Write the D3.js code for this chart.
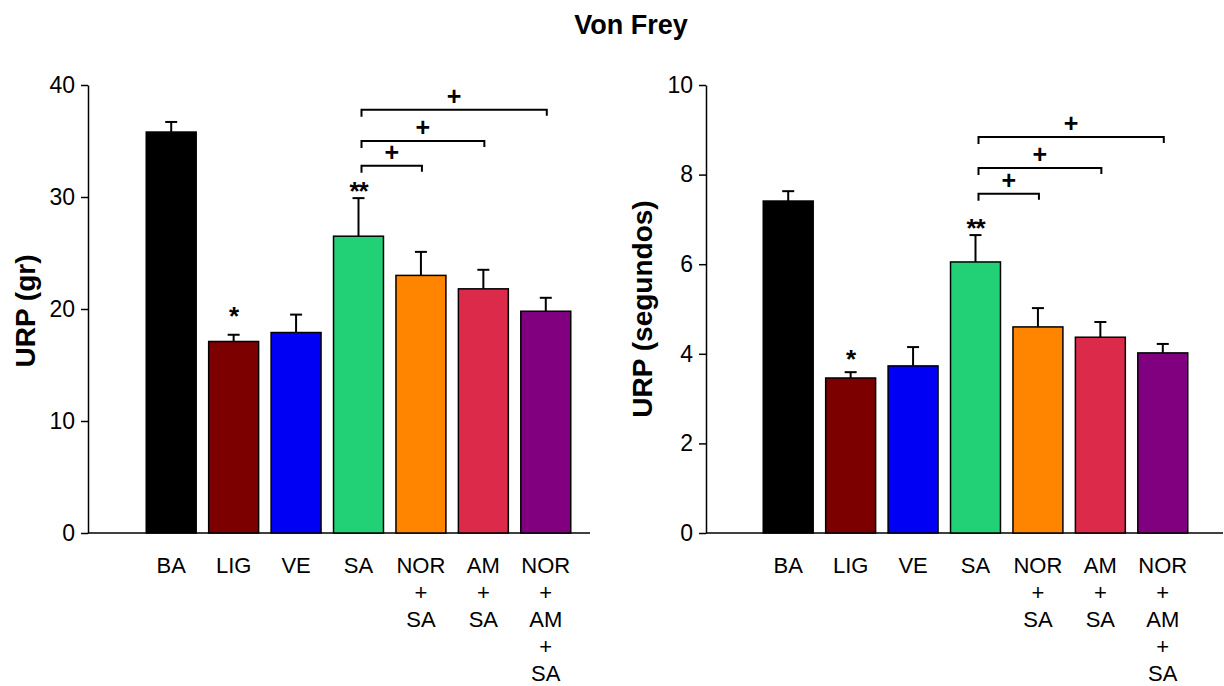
<!DOCTYPE html>
<html>
<head>
<meta charset="utf-8">
<script src="https://cdn.jsdelivr.net/npm/d3@7"></script>
<style>
  html, body { margin: 0; padding: 0; background: #fff; }
  svg { display: block; font-family: "Liberation Sans", Arial, sans-serif; }
</style>
</head>
<body>
<svg id="chart" width="1224" height="686"></svg>
<script>
// categories + colours
const groups = ['BA', 'LIG', 'VE', 'SA', 'NOR+SA', 'AM+SA', 'NOR+AM+SA']
const groupLines = [['BA'], ['LIG'], ['VE'], ['SA'], ['NOR', '+', 'SA'], ['AM', '+', 'SA'], ['NOR', '+', 'AM', '+', 'SA']]
const colors = ['#000000', '#7d0000', '#0000f5', '#22d175', '#ff8500', '#dc2a4b', '#800080']

// left panel: grams
const gramsMean = [35.8, 17.1, 17.9, 26.5, 23.0, 21.8, 19.8]
const gramsTop = [36.7, 17.7, 19.5, 29.9, 25.1, 23.5, 21.0]
const gramsTicks = [0, 10, 20, 30, 40]
const gramsStars = [{ g: 'LIG', txt: '*', y: 19.9 }, { g: 'SA', txt: '**', y: 31.1 }]
const gramsBrackets = [
    { to: 'NOR+SA', y: 32.8 },
    { to: 'AM+SA', y: 35.0 },
    { to: 'NOR+AM+SA', y: 37.8 }
]

// right panel: seconds
const secMean = [7.41, 3.46, 3.73, 6.05, 4.6, 4.37, 4.02]
const secTop = [7.63, 3.59, 4.15, 6.65, 5.02, 4.71, 4.22]
const secTicks = [0, 2, 4, 6, 8, 10]
const secStars = [{ g: 'LIG', txt: '*', y: 4.02 }, { g: 'SA', txt: '**', y: 6.94 }]
const secBrackets = [
    { to: 'NOR+SA', y: 7.57 },
    { to: 'AM+SA', y: 8.15 },
    { to: 'NOR+AM+SA', y: 8.84 }
]

const svg = d3.select('#chart')

svg.append('text')
    .attr('x', 631)
    .attr('y', 34)
    .attr('text-anchor', 'middle')
    .attr('font-size', 27)
    .attr('font-weight', 'bold')
    .text('Von Frey')

function panel(opt) {
    const g = svg.append('g')
    const y = d3.scaleLinear().domain([0, opt.max]).range([533, 85])
    const x = d3.scaleBand().domain(groups).range(opt.band).paddingInner(0.2).paddingOuter(0.1)

    // y axis
    const yAxis = g.append('g')
        .attr('transform', `translate(${opt.axisX},0)`)
        .call(d3.axisLeft(y).tickValues(opt.ticks).tickSize(7).tickSizeOuter(0).tickPadding(6))
    yAxis.selectAll('path, line').attr('stroke', '#000').attr('stroke-width', 1.5)
    yAxis.selectAll('text').attr('font-size', 23).attr('fill', '#000')
        .attr('font-family', '"Liberation Sans", Arial, sans-serif')

    // baseline
    g.append('line')
        .attr('x1', opt.axisX).attr('x2', opt.baseEnd)
        .attr('y1', y(0)).attr('y2', y(0))
        .attr('stroke', '#000').attr('stroke-width', 1.5)

    // y label
    g.append('text')
        .attr('transform', `translate(${opt.labelX},${opt.labelY}) rotate(-90)`)
        .attr('text-anchor', 'middle')
        .attr('font-size', 28)
        .attr('font-weight', 'bold')
        .text(opt.label)

    // error bars first
    const err = g.append('g').attr('stroke', '#000').attr('stroke-width', 2)
    groups.forEach((k, i) => {
        const cx = x(k) + x.bandwidth() / 2
        err.append('line').attr('x1', cx).attr('x2', cx).attr('y1', y(opt.mean[i])).attr('y2', y(opt.top[i]))
        err.append('line').attr('x1', cx - 6).attr('x2', cx + 6).attr('y1', y(opt.top[i])).attr('y2', y(opt.top[i]))
    })

    // bars
    g.selectAll('rect.bar')
        .data(groups)
        .enter()
        .append('rect')
        .attr('class', 'bar')
        .attr('x', d => x(d))
        .attr('width', x.bandwidth())
        .attr('y', (d, i) => y(opt.mean[i]))
        .attr('height', (d, i) => y(0) - y(opt.mean[i]))
        .attr('fill', (d, i) => colors[i])
        .attr('stroke', '#000')
        .attr('stroke-width', 1.5)

    // category labels
    groups.forEach((k, i) => {
        const t = g.append('text')
            .attr('x', x(k) + x.bandwidth() / 2)
            .attr('y', 573)
            .attr('text-anchor', 'middle')
            .attr('font-size', 22)
        groupLines[i].forEach((line, j) => {
            t.append('tspan')
                .attr('x', x(k) + x.bandwidth() / 2)
                .attr('dy', j === 0 ? 0 : 27)
                .text(line)
        })
    })

    // stars
    opt.stars.forEach(s => {
        g.append('text')
            .attr('x', x(s.g) + x.bandwidth() / 2)
            .attr('y', y(s.y) + 15)
            .attr('text-anchor', 'middle')
            .attr('font-size', 26)
            .attr('font-weight', 'bold')
            .attr('letter-spacing', -1)
            .text(s.txt)
    })

    // significance brackets
    const from = x('SA') + x.bandwidth() / 2 + 3
    opt.brackets.forEach(b => {
        const to = x(b.to) + x.bandwidth() / 2 + 1
        const by = y(b.y)
        g.append('path')
            .attr('d', `M${from} ${by + 7} L${from} ${by} L${to} ${by} L${to} ${by + 6}`)
            .attr('fill', 'none')
            .attr('stroke', '#000')
            .attr('stroke-width', 2)
        g.append('text')
            .attr('x', (from + to) / 2)
            .attr('y', by - 5)
            .attr('text-anchor', 'middle')
            .attr('font-size', 25)
            .attr('font-weight', 'bold')
            .text('+')
    })
}

panel({
    max: 40, ticks: gramsTicks, mean: gramsMean, top: gramsTop,
    stars: gramsStars, brackets: gramsBrackets,
    axisX: 88, band: [140, 577], baseEnd: 590,
    label: 'URP (gr)', labelX: 35, labelY: 311
})

panel({
    max: 10, ticks: secTicks, mean: secMean, top: secTop,
    stars: secStars, brackets: secBrackets,
    axisX: 706, band: [757, 1194], baseEnd: 1223,
    label: 'URP (segundos)', labelX: 652, labelY: 309
})
</script>
</body>
</html>
